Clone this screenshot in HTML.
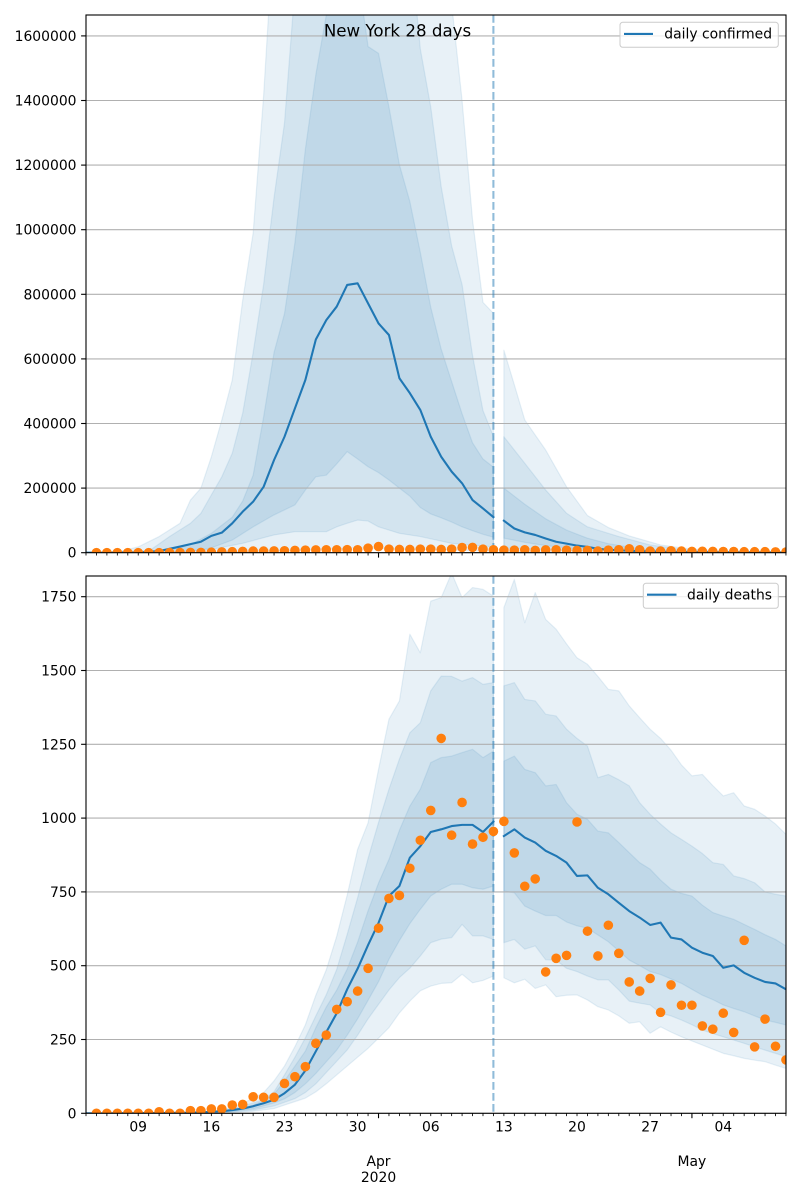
<!DOCTYPE html>
<html><head><meta charset="utf-8">
<style>
html,body{margin:0;padding:0;background:#fff}
svg{display:block}
text{font-family:"DejaVu Sans","Liberation Sans",sans-serif;fill:#000}
</style></head>
<body>
<svg id="s" width="800" height="1200" viewBox="0 0 800 1200" xmlns="http://www.w3.org/2000/svg">
<defs>
<clipPath id="ct"><rect x="86" y="15" width="700" height="537.7"/></clipPath>
<clipPath id="cb"><rect x="86" y="576" width="700" height="537.3"/></clipPath>
</defs>
<rect width="800" height="1200" fill="#fff"/>

<!-- TOP AXES -->
<g clip-path="url(#ct)">
  <g id="tBands"></g>
  <g stroke="#b0b0b0" stroke-width="1.1">
    <line x1="86" x2="786" y1="552.7" y2="552.7"/>
    <line x1="86" x2="786" y1="488.1" y2="488.1"/>
    <line x1="86" x2="786" y1="423.5" y2="423.5"/>
    <line x1="86" x2="786" y1="358.9" y2="358.9"/>
    <line x1="86" x2="786" y1="294.3" y2="294.3"/>
    <line x1="86" x2="786" y1="229.7" y2="229.7"/>
    <line x1="86" x2="786" y1="165.1" y2="165.1"/>
    <line x1="86" x2="786" y1="100.5" y2="100.5"/>
    <line x1="86" x2="786" y1="35.9" y2="35.9"/>
  </g>
  <g id="tLines"></g>
  <line x1="493.4" x2="493.4" y1="15" y2="553" stroke="#1f77b4" stroke-opacity="0.5" stroke-width="2.08" stroke-dasharray="7.7 3.3"/>
  <g id="tDots" fill="#ff7f0e"></g>
</g>

<!-- BOTTOM AXES -->
<g clip-path="url(#cb)">
  <g id="bBands"></g>
  <g stroke="#b0b0b0" stroke-width="1.1">
    <line x1="86" x2="786" y1="1113.3" y2="1113.3"/>
    <line x1="86" x2="786" y1="1039.5" y2="1039.5"/>
    <line x1="86" x2="786" y1="965.7" y2="965.7"/>
    <line x1="86" x2="786" y1="891.9" y2="891.9"/>
    <line x1="86" x2="786" y1="818.1" y2="818.1"/>
    <line x1="86" x2="786" y1="744.3" y2="744.3"/>
    <line x1="86" x2="786" y1="670.5" y2="670.5"/>
    <line x1="86" x2="786" y1="596.7" y2="596.7"/>
  </g>
  <g id="bLines"></g>
  <line x1="493.4" x2="493.4" y1="576" y2="1114" stroke="#1f77b4" stroke-opacity="0.5" stroke-width="2.08" stroke-dasharray="7.7 3.3"/>
  <g id="bDots" fill="#ff7f0e"></g>
</g>

<!-- spines -->
<rect x="86" y="15" width="700" height="537.7" fill="none" stroke="#000" stroke-width="1.1"/>
<rect x="86" y="576" width="700" height="537.3" fill="none" stroke="#000" stroke-width="1.1"/>

<!-- y ticks -->
<g stroke="#000" stroke-width="1.1">
  <line x1="81.1" x2="86" y1="552.7" y2="552.7"/>
  <line x1="81.1" x2="86" y1="488.1" y2="488.1"/>
  <line x1="81.1" x2="86" y1="423.5" y2="423.5"/>
  <line x1="81.1" x2="86" y1="358.9" y2="358.9"/>
  <line x1="81.1" x2="86" y1="294.3" y2="294.3"/>
  <line x1="81.1" x2="86" y1="229.7" y2="229.7"/>
  <line x1="81.1" x2="86" y1="165.1" y2="165.1"/>
  <line x1="81.1" x2="86" y1="100.5" y2="100.5"/>
  <line x1="81.1" x2="86" y1="35.9" y2="35.9"/>
  <line x1="81.1" x2="86" y1="1113.3" y2="1113.3"/>
  <line x1="81.1" x2="86" y1="1039.5" y2="1039.5"/>
  <line x1="81.1" x2="86" y1="965.7" y2="965.7"/>
  <line x1="81.1" x2="86" y1="891.9" y2="891.9"/>
  <line x1="81.1" x2="86" y1="818.1" y2="818.1"/>
  <line x1="81.1" x2="86" y1="744.3" y2="744.3"/>
  <line x1="81.1" x2="86" y1="670.5" y2="670.5"/>
  <line x1="81.1" x2="86" y1="596.7" y2="596.7"/>
</g>
<g id="xTicks" stroke="#000"></g>

<!-- y tick labels -->
<g font-size="13.9" text-anchor="end">
  <text x="76.5" y="557.7">0</text>
  <text x="76.5" y="493.1">200000</text>
  <text x="76.5" y="428.5">400000</text>
  <text x="76.5" y="363.9">600000</text>
  <text x="76.5" y="299.3">800000</text>
  <text x="76.5" y="234.7">1000000</text>
  <text x="76.5" y="170.1">1200000</text>
  <text x="76.5" y="105.5">1400000</text>
  <text x="76.5" y="40.9">1600000</text>
  <text x="76.5" y="1118.3">0</text>
  <text x="76.5" y="1044.5">250</text>
  <text x="76.5" y="970.7">500</text>
  <text x="76.5" y="896.9">750</text>
  <text x="76.5" y="823.1">1000</text>
  <text x="76.5" y="749.3">1250</text>
  <text x="76.5" y="675.5">1500</text>
  <text x="76.5" y="601.7">1750</text>
</g>

<!-- x tick labels -->
<g font-size="13.9" text-anchor="middle">
  <text x="138.2" y="1131.5">09</text>
  <text x="211.4" y="1131.5">16</text>
  <text x="284.5" y="1131.5">23</text>
  <text x="357.6" y="1131.5">30</text>
  <text x="430.8" y="1131.5">06</text>
  <text x="503.9" y="1131.5">13</text>
  <text x="577.0" y="1131.5">20</text>
  <text x="650.1" y="1131.5">27</text>
  <text x="723.3" y="1131.5">04</text>
  <text x="378.5" y="1166">Apr</text>
  <text x="378.5" y="1182">2020</text>
  <text x="691.9" y="1166">May</text>
</g>

<!-- title -->
<text x="397.5" y="36.5" font-size="16.67" text-anchor="middle">New York 28 days</text>

<!-- legends -->
<rect x="620" y="22.3" width="158.3" height="25" rx="2.8" fill="#fff" fill-opacity="0.8" stroke="#cccccc" stroke-width="1"/>
<line x1="624" x2="653" y1="33.9" y2="33.9" stroke="#1f77b4" stroke-width="2.08"/>
<text x="664.3" y="38.6" font-size="13.9">daily confirmed</text>

<rect x="643.3" y="583.3" width="135" height="25" rx="2.8" fill="#fff" fill-opacity="0.8" stroke="#cccccc" stroke-width="1"/>
<line x1="647" x2="676.5" y1="594.7" y2="594.7" stroke="#1f77b4" stroke-width="2.08"/>
<text x="687" y="599.3" font-size="13.9">daily deaths</text>
</svg>

<script>
(function(){
var NS="http://www.w3.org/2000/svg";
function X(d){return 86+d*10.447;}
function Yt(v){return 552.7-v*64.6/200000;}
function Yb(v){return 1113.3-v*0.2952;}
function iv(k,d){
  if(d<=k[0][0])return k[0][1];
  for(var i=1;i<k.length;i++){
    if(d<=k[i][0]){var d0=k[i-1][0],v0=k[i-1][1],d1=k[i][0],v1=k[i][1];return v0+(v1-v0)*(d-d0)/(d1-d0);}
  }
  return k[k.length-1][1];
}
function pts(k,a,b,Y){var r=[];for(var d=a;d<=b;d++)r.push([X(d),Y(iv(k,d))]);return r;}
function fmt(p){return p[0].toFixed(2)+","+p[1].toFixed(2);}
function band(up,lo,a,b,Y){var u=pts(up,a,b,Y),l=pts(lo,a,b,Y).reverse();return "M"+u.concat(l).map(fmt).join("L")+"Z";}
function line(k,a,b,Y){return "M"+pts(k,a,b,Y).map(fmt).join("L");}
function el(parent,tag,attrs){var e=document.createElementNS(NS,tag);for(var a in attrs)e.setAttribute(a,attrs[a]);parent.appendChild(e);return e;}
function addBand(g,up,lo,a,b,Y){el(g,"path",{d:band(up,lo,a,b,Y),fill:"#1f77b4","fill-opacity":"0.1",stroke:"#1f77b4","stroke-opacity":"0.1","stroke-width":"1.2","stroke-linejoin":"round"});}
function addLine(g,k,a,b,Y){el(g,"path",{d:line(k,a,b,Y),fill:"none",stroke:"#1f77b4","stroke-width":"2.08","stroke-linejoin":"round","stroke-linecap":"square"});}

/* ---------- TOP (confirmed) ---------- */
var tMed1=[[0,0],[5,500],[7,5000],[9,19000],[11,34000],[12,52000],[13,62000],[14,91000],[15,127000],[16,158000],[17,204000],[18,287000],[19,359000],[20,447000],[21,535000],[22,660000],[23,720000],[24,762000],[25,829000],[26,834000],[27,772000],[28,710000],[29,674000],[30,540000],[31,494000],[32,442000],[33,359000],[34,297000],[35,251000],[36,215000],[37,163000],[38,137000],[39,110000]];
var tOU1=[[0,0],[3,2000],[5,18000],[7,50000],[9,91000],[10,163000],[11,200000],[12,297000],[13,411000],[14,535000],[15,782000],[16,990000],[17,1415000],[18,1950000],[34,2500000],[35,1700000],[36,1400000],[37,1030000],[38,775000],[39,741000]];
var tMU1=[[0,0],[6,5000],[8,50000],[10,91000],[11,122000],[12,179000],[13,235000],[14,308000],[15,432000],[16,620000],[17,830000],[18,1100000],[19,1330000],[20,1750000],[21,2200000],[30,2200000],[31,1900000],[32,1560000],[33,1380000],[34,1133000],[35,950000],[36,830000],[37,610000],[38,440000],[39,360000]];
var tIU1=[[0,0],[8,8000],[10,25000],[12,60000],[14,110000],[15,160000],[16,240000],[17,420000],[18,620000],[19,740000],[20,960000],[21,1250000],[22,1480000],[23,1665000],[24,1800000],[26,1800000],[27,1567000],[28,1546000],[29,1380000],[30,1201000],[31,1087000],[32,930000],[33,760000],[34,630000],[35,530000],[36,430000],[37,340000],[38,290000],[39,265000]];
var tIL1=[[0,0],[10,3000],[12,15000],[14,39000],[16,80000],[18,117000],[20,148000],[21,194000],[22,235000],[23,240000],[24,275000],[25,313000],[26,290000],[27,266000],[28,248000],[29,225000],[30,200000],[31,175000],[32,140000],[33,120000],[34,108000],[35,95000],[36,80000],[37,68000],[38,57000],[39,48000]];
var tML1=[[0,0],[9,4000],[12,10000],[15,29000],[18,55000],[20,65000],[23,65000],[24,80000],[25,91000],[26,101000],[27,98000],[28,80000],[29,70000],[30,60000],[32,50000],[35,29000],[39,18000]];
var tOL1=[[0,0],[12,2000],[20,8000],[26,15000],[30,12000],[39,5000]];

var tMed2=[[40,99000],[41,75000],[42,63000],[43,55000],[44,44000],[45,34000],[46,28000],[47,22000],[48,18000],[49,12000],[50,9000],[52,6000],[55,3000],[60,1500],[67,800]];
var tOU2=[[40,627000],[41,520000],[42,411000],[44,318000],[46,204000],[48,115000],[50,78000],[52,52000],[55,24000],[57,15000],[60,6000],[67,2000]];
var tMU2=[[40,359000],[42,277000],[44,194000],[46,122000],[48,80000],[51,50000],[54,24000],[57,10000],[60,4000],[67,1000]];
var tIU2=[[40,200000],[42,150000],[44,105000],[46,70000],[48,45000],[50,28000],[53,12000],[56,5000],[67,500]];
var tIL2=[[40,45000],[42,32000],[44,22000],[46,15000],[50,6000],[55,2000],[67,200]];
var tML2=[[40,15000],[45,8000],[50,3000],[67,100]];
var tOL2=[[40,3000],[50,500],[67,0]];

var tb=document.getElementById("tBands");
addBand(tb,tOU1,tOL1,0,39,Yt);addBand(tb,tMU1,tML1,0,39,Yt);addBand(tb,tIU1,tIL1,0,39,Yt);
addBand(tb,tOU2,tOL2,40,67,Yt);addBand(tb,tMU2,tML2,40,67,Yt);addBand(tb,tIU2,tIL2,40,67,Yt);
var tl=document.getElementById("tLines");
addLine(tl,tMed1,0,39,Yt);addLine(tl,tMed2,40,67,Yt);

var conf=[5,20,30,50,100,150,200,300,500,800,
1000,1500,2500,3000,4000,5000,5000,5500,6000,7000,
8000,8500,9000,9000,9500,9000,14000,19000,11000,10000,
10000,11000,11000,10000,11000,16000,16500,11000,9000,8000,
8000,9000,7000,8500,9000,8000,7000,7000,5000,8000,
9000,12000,9000,5000,5000,6000,5000,4000,4500,4000,
3500,3500,3000,3000,3000,2500,2000];
var td=document.getElementById("tDots");
for(var i=0;i<conf.length;i++){el(td,"circle",{cx:X(i+1).toFixed(2),cy:Yt(conf[i]).toFixed(2),r:"4.8"});}

/* ---------- BOTTOM (deaths) ---------- */
var bMed1=[[0,0],[5,0.5],[10,2],[12,5],[13,7],[14,11],[15,16],[16,24],[17,34],[18,46],[19,68],[20,97],[21,145],[22,210],[23,275],[24,339],[25,420],[26,490],[27,570],[28,645],[29,736],[30,770],[31,866],[32,905],[33,953],[34,962],[35,973],[36,977],[37,977],[38,953],[39,988]];
var bOU1=[[0,0],[10,3],[12,8],[14,20],[16,50],[17,70],[18,110],[19,160],[20,226],[21,300],[22,400],[22.7,452],[24,600],[24.6,677],[26,894],[27,984],[28,1165],[29,1335],[30,1397],[31,1623],[32,1560],[33,1735],[34,1747],[35,1830],[36,1747],[37,1781],[38,1775],[39,1752]];
var bMU1=[[0,0],[10,2],[12,6],[14,15],[16,35],[17.7,56],[19,130],[20.6,226],[22,330],[23.7,452],[25.6,677],[27.4,917],[29,1098],[30,1200],[31,1289],[32,1323],[33,1431],[34,1481],[35,1480],[36,1464],[37,1476],[38,1453],[39,1459]];
var bIU1=[[0,0],[10,2],[12,5],[14,12],[16,28],[17.8,56],[19,110],[20,160],[21.3,226],[22,290],[23,360],[24.6,452],[26,580],[26.9,677],[28,780],[29,860],[30.6,1018],[32,1098],[33,1188],[34,1205],[35,1210],[36,1222],[37,1233],[38,1205],[39,1227]];
var bIL1=[[0,0],[12,3],[14,7],[16,15],[18,35],[19.5,56],[21,100],[22,135],[24.3,226],[26,320],[28.1,452],[29,522],[30.6,623],[32,691],[33,736],[34,759],[35,776],[36,776],[37,764],[38,759],[39,770]];
var bML1=[[0,0],[12,2],[14,5],[16,11],[18,25],[20.5,56],[22,100],[25.3,226],[27,320],[29.7,452],[30.6,475],[32,533],[33,578],[34,590],[35,595],[36,640],[37,601],[38,601],[39,589]];
var bOL1=[[0,0],[12,1],[14,3],[16,7],[18,16],[21.4,56],[23,100],[25,160],[27.2,226],[29,290],[30,340],[31,380],[32,415],[33,431],[34,440],[35,442],[36,471],[37,442],[38,450],[39,465]];

var bMed2=[[40,939],[41,962],[42,934],[43,917],[44,889],[45,872],[46,849],[47,804],[48,806],[49,764],[50,742],[51,713],[52,685],[53,663],[54,638],[55,646],[56,595],[57,589],[58,561],[59,544],[60,533],[61,493],[62,501],[63,476],[64,459],[65,445],[66,440],[67,420]];
var bOU2=[[40,1713],[41,1809],[42,1662],[43,1764],[44,1673],[45,1640],[46,1590],[47,1543],[48,1521],[49,1480],[50,1436],[51,1431],[52,1380],[53,1340],[54,1301],[55,1270],[56,1230],[57,1180],[58,1143],[59,1148],[60,1110],[61,1075],[62,1086],[63,1041],[64,1030],[65,1007],[66,980],[67,945]];
var bMU2=[[40,1448],[41,1459],[42,1402],[43,1397],[44,1352],[45,1346],[46,1301],[47,1270],[48,1244],[49,1137],[50,1148],[51,1130],[52,1109],[53,1052],[54,1013],[55,980],[56,950],[57,928],[58,905],[59,880],[60,849],[61,843],[62,804],[63,795],[64,781],[65,750],[66,742],[67,736]];
var bIU2=[[40,1193],[41,1210],[42,1165],[43,1154],[44,1109],[45,1114],[46,1052],[47,1013],[48,996],[49,956],[50,950],[51,917],[52,883],[53,849],[54,827],[55,790],[56,759],[57,745],[58,736],[59,705],[60,680],[61,668],[62,657],[63,640],[64,623],[65,605],[66,589],[67,567]];
var bIL2=[[40,753],[41,747],[42,702],[43,685],[44,670],[45,670],[46,648],[47,635],[48,627],[49,604],[50,581],[51,550],[52,519],[53,500],[54,480],[55,470],[56,455],[57,440],[58,420],[59,400],[60,385],[61,367],[62,355],[63,344],[64,330],[65,316],[66,308],[67,299]];
var bML2=[[40,578],[41,589],[42,556],[43,567],[44,520],[45,519],[46,491],[47,480],[48,465],[49,452],[50,452],[51,418],[52,380],[53,373],[54,367],[55,339],[56,330],[57,316],[58,300],[59,282],[60,270],[61,259],[62,248],[63,237],[64,225],[65,214],[66,203],[67,192]];
var bOL2=[[40,459],[41,442],[42,454],[43,423],[44,435],[45,395],[46,400],[47,401],[48,384],[49,361],[50,350],[51,330],[52,305],[53,310],[54,271],[55,293],[56,275],[57,259],[58,245],[59,231],[60,217],[61,203],[62,195],[63,186],[64,180],[65,175],[66,163],[67,152]];

var bb=document.getElementById("bBands");
addBand(bb,bOU1,bOL1,0,39,Yb);addBand(bb,bMU1,bML1,0,39,Yb);addBand(bb,bIU1,bIL1,0,39,Yb);
addBand(bb,bOU2,bOL2,40,67,Yb);addBand(bb,bMU2,bML2,40,67,Yb);addBand(bb,bIU2,bIL2,40,67,Yb);
var bl=document.getElementById("bLines");
addLine(bl,bMed1,0,39,Yb);addLine(bl,bMed2,40,67,Yb);

var deaths=[0,0,0,0,0,0,5,0,0,9,9,15,15,28,30,56,54,54,101,124,158,237,265,352,378,
414,491,627,728,738,830,925,1026,1270,942,1053,912,935,955,
989,882,769,794,479,525,535,987,617,533,637,542,445,414,457,
342,435,366,366,296,285,339,274,586,225,319,227,181];
var bd=document.getElementById("bDots");
for(var j=0;j<deaths.length;j++){el(bd,"circle",{cx:X(j+1).toFixed(2),cy:Yb(deaths[j]).toFixed(2),r:"4.8"});}

/* ---------- x ticks ---------- */
var xt=document.getElementById("xTicks");
[552.7,1113.3].forEach(function(y0){
  for(var d=0;d<=67;d++){
    var major=(d===28||d===58);
    var len=major?4.9:2.8;
    el(xt,"line",{x1:X(d).toFixed(2),x2:X(d).toFixed(2),y1:y0,y2:(y0+len).toFixed(2),"stroke-width":major?"1.1":"0.85"});
  }
});
})();
</script>
</body></html>
